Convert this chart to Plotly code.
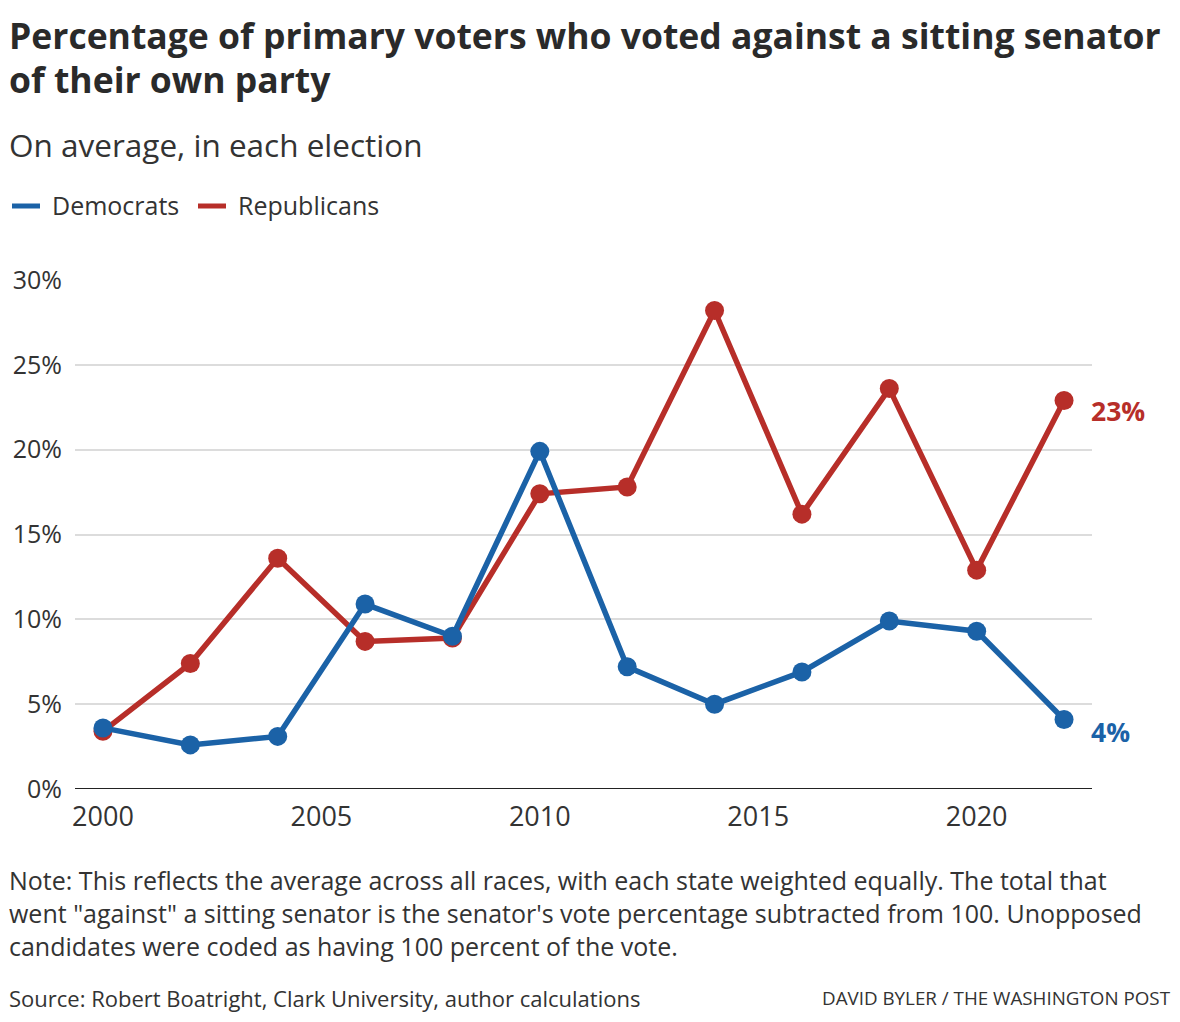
import plotly.graph_objects as go

years = [2000, 2002, 2004, 2006, 2008, 2010, 2012, 2014, 2016, 2018, 2020, 2022]
democrats = [3.6, 2.6, 3.1, 10.9, 9.0, 19.9, 7.2, 5.0, 6.9, 9.9, 9.3, 4.1]
republicans = [3.4, 7.4, 13.6, 8.7, 8.9, 17.4, 17.8, 28.2, 16.2, 23.6, 12.9, 22.9]
y_ticks = [0, 5, 10, 15, 20, 25, 30]
x_ticks = [2000, 2005, 2010, 2015, 2020]

BLUE = "#1b62a7"
RED = "#b72e29"
TEXT = "#2a2a2a"
GREY = "#333333"
FONT = "Open Sans"

W, H = 1180, 1022
OFF = 8  # page body offset
# plot area in page pixels (as in reference)
PX0, PX1, PY0, PY1 = 75, 1092, 280, 789

def fx(x):
    return (x - PX0) / (PX1 - PX0)

def fy(y):
    return (PY1 - y) / (PY1 - PY0)

fig = go.Figure()
fig.add_trace(go.Scatter(x=years, y=republicans, mode="lines+markers", name="Republicans",
                         line=dict(color=RED, width=5.5), marker=dict(size=19, color=RED),
                         cliponaxis=False, showlegend=False))
fig.add_trace(go.Scatter(x=years, y=democrats, mode="lines+markers", name="Democrats",
                         line=dict(color=BLUE, width=5.5), marker=dict(size=19, color=BLUE),
                         cliponaxis=False, showlegend=False))

# end labels
fig.add_annotation(x=years[-1], y=republicans[-1], text="<b>%d%%</b>" % round(republicans[-1]),
                   xref="x", yref="y", xanchor="left", yanchor="middle", xshift=25, yshift=-11,
                   showarrow=False, font=dict(family=FONT, size=26.5, color=RED))
fig.add_annotation(x=years[-1], y=democrats[-1], text="<b>%d%%</b>" % round(democrats[-1]),
                   xref="x", yref="y", xanchor="left", yanchor="middle", xshift=25, yshift=-13,
                   showarrow=False, font=dict(family=FONT, size=26.5, color=BLUE))

texts = [
    ("<b>Percentage of primary voters who voted against a sitting senator</b>", 7, 35, 35.5, TEXT, "left"),
    ("<b>of their own party</b>", 7, 79, 35.5, TEXT, "left"),
    ("On average, in each election", 7, 145, 31.5, GREY, "left"),
    ("Democrats", 50, 205, 25, GREY, "left"),
    ("Republicans", 236, 205, 25, GREY, "left"),
    ("Note: This reflects the average across all races, with each state weighted equally. The total that", 7, 880, 25, GREY, "left"),
    ("went \"against\" a sitting senator is the senator's vote percentage subtracted from 100. Unopposed", 7, 913, 25, GREY, "left"),
    ("candidates were coded as having 100 percent of the vote.", 7, 946, 25, GREY, "left"),
    ("Source: Robert Boatright, Clark University, author calculations", 7, 998, 22, GREY, "left"),
    ("DAVID BYLER / THE WASHINGTON POST", 1173, 998, 18.8, GREY, "right"),
]
for t, x, y, s, c, anchor in texts:
    fig.add_annotation(text=t, x=fx(x), y=fy(y), xref="paper", yref="paper",
                       xanchor=anchor, yanchor="middle", showarrow=False,
                       font=dict(family=FONT, size=s, color=c))

# legend swatches
for x0, col in [(12, BLUE), (198, RED)]:
    fig.add_shape(type="line", x0=fx(x0), x1=fx(x0 + 28), y0=fy(206), y1=fy(206),
                  xref="paper", yref="paper", line=dict(color=col, width=5))

fig.update_layout(
    width=W, height=H,
    margin=dict(l=PX0 - OFF, r=W - (PX1 - OFF), t=PY0 - OFF, b=H - (PY1 - OFF), pad=0,
                autoexpand=False),
    plot_bgcolor="white", paper_bgcolor="white",
    font=dict(family=FONT, color=GREY),
    xaxis=dict(range=[1999.36, 2022.64], tickvals=x_ticks, ticktext=[str(v) for v in x_ticks],
               showgrid=False, zeroline=False, showline=False, ticks="", automargin=False,
               tickfont=dict(size=27, color=GREY), ticklabelstandoff=9, fixedrange=True),
    yaxis=dict(range=[0, 30], tickvals=y_ticks, ticktext=["%d%%" % v for v in y_ticks],
               showgrid=True, gridcolor="#dcdcdc", gridwidth=1.5, zeroline=False, automargin=False,
               showline=False, ticks="", tickfont=dict(size=25, color=GREY),
               ticklabelstandoff=12, fixedrange=True),
    showlegend=False,
)
# baseline
fig.add_shape(type="line", xref="paper", yref="y", x0=0, x1=1, y0=0, y1=0,
              line=dict(color="#222222", width=2), layer="above")

fig.write_html("out.html")
